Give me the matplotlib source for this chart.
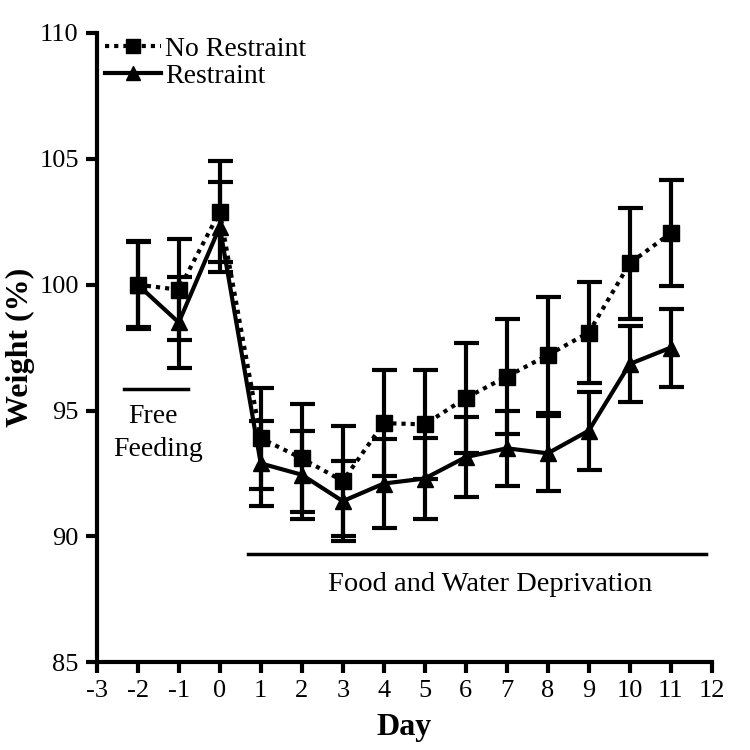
import matplotlib
matplotlib.use("Agg")
import matplotlib.pyplot as plt

plt.rcParams['font.family'] = ['Liberation Serif', 'DejaVu Serif']
plt.rcParams['axes.unicode_minus'] = False

days = [-2, -1, 0, 1, 2, 3, 4, 5, 6, 7, 8, 9, 10, 11]

no_restraint = [100.0, 99.8, 102.9, 93.9, 93.1, 92.2, 94.5, 94.45, 95.5, 96.35, 97.2, 98.1, 100.85, 102.05]
no_restraint_err = [1.75, 2.0, 2.0, 2.0, 2.15, 2.2, 2.1, 2.15, 2.2, 2.3, 2.3, 2.0, 2.2, 2.1]

restraint = [100.0, 98.5, 102.3, 92.9, 92.45, 91.4, 92.1, 92.3, 93.15, 93.5, 93.3, 94.2, 96.85, 97.5]
restraint_err = [1.7, 1.8, 1.8, 1.7, 1.75, 1.6, 1.75, 1.6, 1.6, 1.5, 1.5, 1.55, 1.5, 1.55]

x_ticks = list(range(-3, 13))
y_ticks = [85, 90, 95, 100, 105, 110]

fig = plt.figure(figsize=(7.5, 7.5), dpi=100)
ax = fig.add_axes([0.129, 0.117, 0.820, 0.839])

ax.errorbar(days, no_restraint, yerr=no_restraint_err, color='black',
            linestyle=(0, (1, 1.2)), linewidth=3, marker='s', markersize=11,
            elinewidth=3, capsize=9, capthick=3, label='No Restraint', zorder=3)
ax.errorbar(days, restraint, yerr=restraint_err, color='black',
            linestyle='-', linewidth=3, marker='^', markersize=11,
            elinewidth=3, capsize=9, capthick=3, label='Restraint', zorder=3)

# period bars
ax.plot([-2.34, -0.78], [95.85, 95.85], color='black', linewidth=2.5)
ax.text(-1.63, 94.75, 'Free', ha='center', va='center', fontsize=20)
ax.text(-1.5, 93.45, 'Feeding', ha='center', va='center', fontsize=20)
ax.plot([0.68, 11.85], [89.3, 89.3], color='black', linewidth=2.5)
ax.text(6.6, 88.1, 'Food and Water Deprivation', ha='center', va='center', fontsize=20.5)

ax.set_xlim(-3, 12)
ax.set_ylim(85, 110)
ax.set_xticks(x_ticks)
ax.set_yticks(y_ticks)
ax.tick_params(direction='out', length=8, width=3, labelsize=19, pad=5)

ax.spines['top'].set_visible(False)
ax.spines['right'].set_visible(False)
ax.spines['left'].set_linewidth(3)
ax.spines['bottom'].set_linewidth(3)

ax.set_xlabel('Day', fontsize=23, fontweight='bold', labelpad=8)
ax.set_ylabel('Weight (%)', fontsize=23, fontweight='bold', labelpad=3)

handles, labels = ax.get_legend_handles_labels()
handles = [h[0] for h in handles]
leg = ax.legend(handles, labels, loc='upper left', bbox_to_anchor=(0.0, 1.008),
                frameon=False, fontsize=20, handlelength=2.0, handletextpad=0.15,
                borderaxespad=0.0, borderpad=0.3, labelspacing=0.05,
                markerscale=0.95)

fig.savefig('out.png', dpi=100)
